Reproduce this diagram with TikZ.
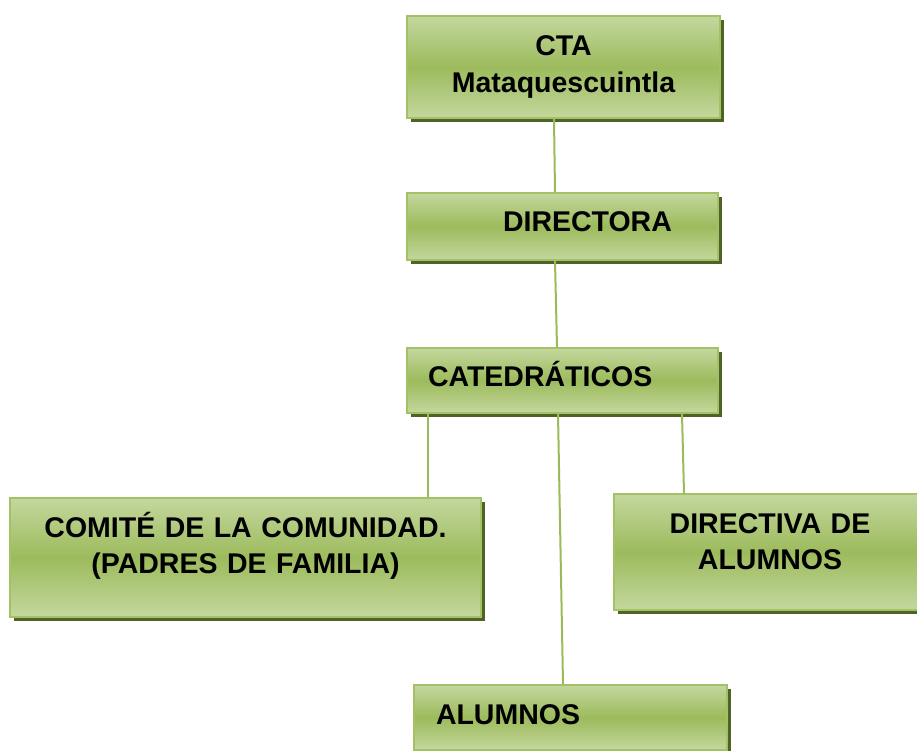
\documentclass[tikz,border=0pt]{standalone}
\usepackage{fontspec}
\setmainfont{Liberation Sans}
\usetikzlibrary{shadows}

\definecolor{boxlight}{HTML}{C4D79E}
\definecolor{boxmid}{HTML}{9CBB5C}
\definecolor{boxedge}{HTML}{A3C266}
\definecolor{boxshadow}{HTML}{4F6228}
\definecolor{linkgreen}{HTML}{9BBB59}

\tikzset{
  orgbox/.style={rectangle, inner sep=0pt, draw=boxedge, line width=2pt,
    top color=boxlight, bottom color=boxlight, middle color=boxmid,
    drop shadow={shadow xshift=4pt, shadow yshift=-4pt, fill=boxshadow, opacity=1},
    font=\fontsize{28.5}{36.5}\selectfont\bfseries},
  link/.style={draw=linkgreen, line width=2pt}
}

\begin{document}
\begin{tikzpicture}[x=1pt,y=-1pt]
    \useasboundingbox (0,0) rectangle (917,751);

    % boxes of the chart
    \node[orgbox, text width=313pt, align=center, text height=40pt, text depth=62pt]
        (cta) at (563.5,67) {CTA\\Mataquescuintla};
    \node[orgbox, text width=311pt, align=left, text height=38pt, text depth=29pt]
        (dir) at (562.5,226.5) {\hspace*{96pt}DIRECTORA};
    \node[orgbox, text width=311pt, align=left, text height=38pt, text depth=27pt]
        (cat) at (562.5,380.5) {\hspace*{21pt}CATEDRÁTICOS};
    \node[orgbox, text width=471pt, align=center, text height=39pt, text depth=80pt]
        (com) at (245.5,557.5) {COMITÉ DE LA COMUNIDAD.\\(PADRES DE FAMILIA)};
    \node[orgbox, text width=312pt, align=center, text height=39pt, text depth=77pt]
        (dtv) at (770,552) {DIRECTIVA DE\\ALUMNOS};
    \node[orgbox, text width=313pt, align=left, text height=39pt, text depth=26pt]
        (alu) at (570.5,717.5) {\hspace*{22pt}ALUMNOS};

    % connectors
    \draw[link] ([xshift=-9.5pt]cta.south) -- ([xshift=-7.5pt]dir.north);
    \draw[link] ([xshift=-7.5pt]dir.south) -- ([xshift=-5.5pt]cat.north);
    \draw[link] ([xshift=-134.5pt]cat.south) -- ([xshift=182.5pt]com.north);
    \draw[link] ([xshift=-4.5pt]cat.south) -- ([xshift=-7.5pt]alu.north);
    \draw[link] ([xshift=119.5pt]cat.south) -- ([xshift=-86pt]dtv.north);
\end{tikzpicture}
\end{document}
